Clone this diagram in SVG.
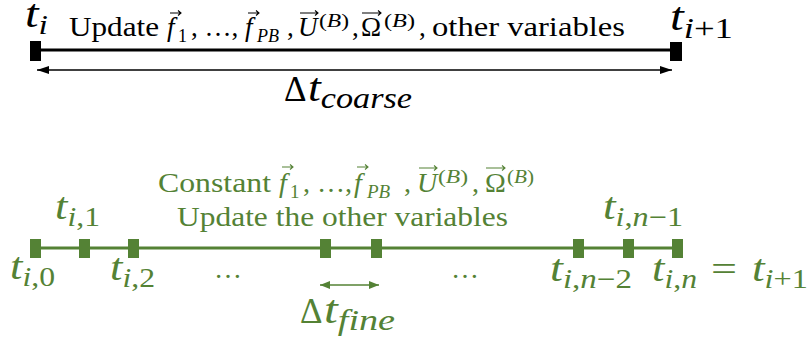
<svg xmlns="http://www.w3.org/2000/svg" width="811" height="341" viewBox="0 0 811 341">
<defs>
<style>
.txt{font-family:"Liberation Serif","Times New Roman",serif;}
.m{font-family:"Liberation Serif","Times New Roman",serif;font-style:italic;}
.up{font-style:normal;}
.blk{fill:#000;}
.grn{fill:#548235;}
.vec{fill:none;stroke-width:1.1;}
</style>
<marker id="ahB" viewBox="0 0 12 8" refX="12" refY="4" markerWidth="12" markerHeight="8" markerUnits="userSpaceOnUse" orient="auto-start-reverse"><path d="M0,0 L12,4 L0,8 Z" fill="#000"/></marker>
<marker id="ahG" viewBox="0 0 10 8" refX="10" refY="4" markerWidth="10" markerHeight="8" markerUnits="userSpaceOnUse" orient="auto-start-reverse"><path d="M0,0 L10,4 L0,8 Z" fill="#548235"/></marker>
</defs>
<rect width="811" height="341" fill="#fff"/>

<g id="coarse-step">
<line x1="35" y1="50" x2="676" y2="50" stroke="#000" stroke-width="3"/>
<rect x="30" y="41" width="11" height="20" fill="#000"/>
<rect x="670" y="42" width="12" height="19" fill="#000"/>
<text class="m blk" x="25" y="27" font-size="39" textLength="23" lengthAdjust="spacingAndGlyphs">t<tspan font-size="27" y="34">i</tspan></text>
<text class="m blk" x="670" y="30" font-size="39" textLength="63" lengthAdjust="spacingAndGlyphs">t<tspan font-size="29" y="38">i<tspan class="up">+1</tspan></tspan></text>
<text class="txt blk" font-size="27" y="36"><tspan x="69" textLength="90" lengthAdjust="spacingAndGlyphs">Update</tspan><tspan class="m" x="167">f</tspan><tspan x="178" y="42" font-size="18">1</tspan><tspan x="191" y="36">, …,</tspan><tspan class="m" x="245">f</tspan><tspan class="m" x="257" y="42" font-size="18">PB</tspan><tspan x="287" y="36">,</tspan><tspan class="m" x="298">U</tspan><tspan x="319" y="27" font-size="18" textLength="30" lengthAdjust="spacingAndGlyphs">(<tspan class="m">B</tspan>)</tspan><tspan x="352" y="36">,</tspan><tspan x="361">Ω</tspan><tspan x="384" y="27" font-size="18" textLength="31" lengthAdjust="spacingAndGlyphs">(<tspan class="m">B</tspan>)</tspan><tspan x="419" y="36">,</tspan><tspan x="432" textLength="193" lengthAdjust="spacingAndGlyphs">other variables</tspan></text>
<g class="vec" stroke="#000">
<path d="M170,13 h11 m-3,-2.5 l3,2.5 l-3,2.5"/>
<path d="M248,13 h11 m-3,-2.5 l3,2.5 l-3,2.5"/>
<path d="M300,13 h18 m-3,-2.5 l3,2.5 l-3,2.5"/>
<path d="M362,13 h19 m-3,-2.5 l3,2.5 l-3,2.5"/>
</g>
<text class="txt blk" font-size="35" x="284" y="101">Δ</text>
<text class="m blk" font-size="39" x="308" y="101" textLength="104" lengthAdjust="spacingAndGlyphs">t<tspan font-size="29" y="108">coarse</tspan></text>
</g>

<g id="fine-steps">
<line x1="35" y1="248" x2="677" y2="248" stroke="#548235" stroke-width="3"/>
<g fill="#548235">
<rect x="30" y="239" width="11" height="19"/>
<rect x="79" y="239" width="11" height="19"/>
<rect x="128" y="239" width="11" height="19"/>
<rect x="320" y="239" width="11" height="19"/>
<rect x="371" y="239" width="11" height="19"/>
<rect x="573" y="239" width="11" height="19"/>
<rect x="623" y="239" width="11" height="19"/>
<rect x="672" y="239" width="11" height="19"/>
</g>
<text class="txt grn" font-size="28" y="192"><tspan x="158" textLength="113" lengthAdjust="spacingAndGlyphs">Constant</tspan><tspan class="m" x="279">f</tspan><tspan x="290" y="198" font-size="19">1</tspan><tspan x="303" y="192">, …,</tspan><tspan class="m" x="354">f</tspan><tspan class="m" x="367" y="198" font-size="19">PB</tspan><tspan x="404" y="192">,</tspan><tspan class="m" x="417">U</tspan><tspan x="438" y="183" font-size="19" textLength="30" lengthAdjust="spacingAndGlyphs">(<tspan class="m">B</tspan>)</tspan><tspan x="472" y="192">,</tspan><tspan x="485">Ω</tspan><tspan x="507" y="183" font-size="19" textLength="27" lengthAdjust="spacingAndGlyphs">(<tspan class="m">B</tspan>)</tspan></text>
<g class="vec" stroke="#548235">
<path d="M282,167 h11 m-3,-2.5 l3,2.5 l-3,2.5"/>
<path d="M357,167 h11 m-3,-2.5 l3,2.5 l-3,2.5"/>
<path d="M419,168 h18 m-3,-2.5 l3,2.5 l-3,2.5"/>
<path d="M486,168 h19 m-3,-2.5 l3,2.5 l-3,2.5"/>
</g>
<text class="txt grn" font-size="28" x="177" y="226" textLength="331" lengthAdjust="spacingAndGlyphs">Update the other variables</text>
<text class="m grn" font-size="38" x="10" y="279" textLength="45" lengthAdjust="spacingAndGlyphs">t<tspan font-size="27" y="286">i<tspan class="up">,0</tspan></tspan></text>
<text class="m grn" font-size="38" x="55" y="219" textLength="45" lengthAdjust="spacingAndGlyphs">t<tspan font-size="27" y="226">i<tspan class="up">,1</tspan></tspan></text>
<text class="m grn" font-size="38" x="110" y="280" textLength="45" lengthAdjust="spacingAndGlyphs">t<tspan font-size="27" y="287">i<tspan class="up">,2</tspan></tspan></text>
<text class="txt grn" font-size="28" x="214" y="278">…</text>
<text class="txt grn" font-size="28" x="451" y="278">…</text>
<text class="m grn" font-size="38" x="603" y="219" textLength="80" lengthAdjust="spacingAndGlyphs">t<tspan font-size="27" y="226">i<tspan class="up">,</tspan>n<tspan class="up">−1</tspan></tspan></text>
<text class="m grn" font-size="38" x="550" y="281" textLength="82" lengthAdjust="spacingAndGlyphs">t<tspan font-size="27" y="288">i<tspan class="up">,</tspan>n<tspan class="up">−2</tspan></tspan></text>
<text class="m grn" font-size="38" x="652" y="281" textLength="45" lengthAdjust="spacingAndGlyphs">t<tspan font-size="27" y="288">i<tspan class="up">,</tspan>n</tspan></text>
<text class="txt grn" font-size="36" x="711" y="281" textLength="26" lengthAdjust="spacingAndGlyphs">=</text>
<text class="m grn" font-size="38" x="752" y="281" textLength="56" lengthAdjust="spacingAndGlyphs">t<tspan font-size="27" y="288">i<tspan class="up">+1</tspan></tspan></text>
<text class="txt grn" font-size="35" x="300" y="323">Δ</text>
<text class="m grn" font-size="39" x="324" y="323" textLength="71" lengthAdjust="spacingAndGlyphs">t<tspan font-size="30" y="330">fine</tspan></text>
</g>

<g id="connectors">
<line x1="37" y1="70" x2="672" y2="70" stroke="#000" stroke-width="1.3" marker-start="url(#ahB)" marker-end="url(#ahB)"/>
<line x1="320" y1="285" x2="379" y2="285" stroke="#548235" stroke-width="1.5" marker-start="url(#ahG)" marker-end="url(#ahG)"/>
</g>
</svg>
